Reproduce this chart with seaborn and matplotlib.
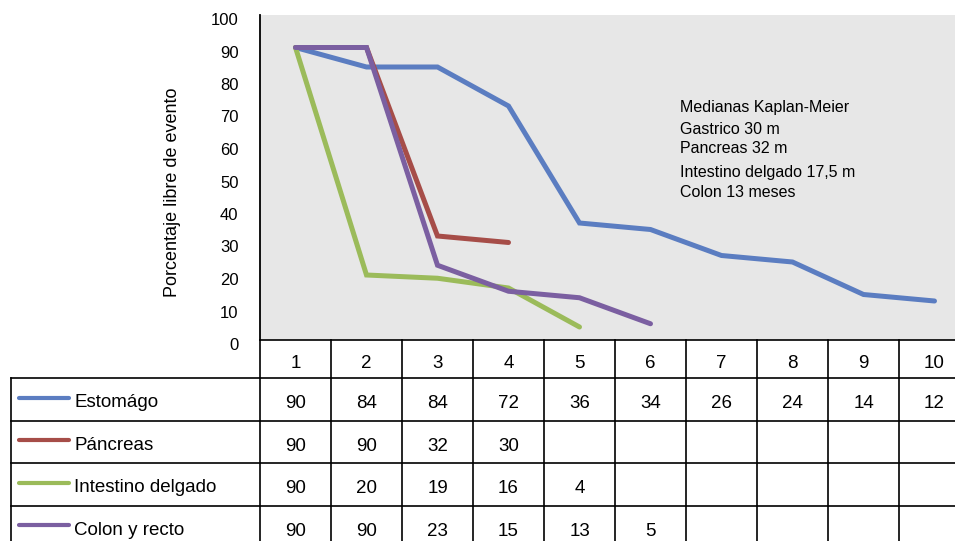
import matplotlib
matplotlib.use("Agg")
import matplotlib.pyplot as plt
from matplotlib.transforms import ScaledTranslation
import pandas as pd
import seaborn as sns

# Months on the x axis (also the table header)
meses = [1, 2, 3, 4, 5, 6, 7, 8, 9, 10]

# Event-free percentage per tumour site
series = ["Estomágo", "Páncreas", "Intestino delgado", "Colon y recto"]
estomago = [90, 84, 84, 72, 36, 34, 26, 24, 14, 12]
pancreas = [90, 90, 32, 30]
intestino = [90, 20, 19, 16, 4]
colon = [90, 90, 23, 15, 13, 5]
colores = ["#5B7DC1", "#A64D48", "#9BBB5A", "#7B5FA1"]

yticks = list(range(0, 101, 10))
notas = ["Medianas Kaplan-Meier", "Gastrico 30 m", "Pancreas 32 m",
         "Intestino delgado 17,5 m", "Colon 13 meses"]
notas_y = [71.6, 64.9, 58.8, 51.5, 45.3]

sns.set_theme(style="white")
plt.rcParams["font.family"] = ["Liberation Sans", "DejaVu Sans"]

valores = [estomago, pancreas, intestino, colon]
df = pd.DataFrame(
    [(s, m, v) for s, vals in zip(series, valores) for m, v in zip(meses, vals)],
    columns=["serie", "mes", "valor"],
)

W, H = 955, 541
fig = plt.figure(figsize=(W / 100, H / 100), dpi=100)
fig.patch.set_facecolor("white")


def px_box(x0, y0, x1, y1):
    return [x0 / W, 1 - y1 / H, (x1 - x0) / W, (y1 - y0) / H]


# ---- chart ----
ax = fig.add_axes(px_box(260, 15, 970, 340))
ax.set_facecolor("#e7e7e7")
sns.lineplot(data=df, x="mes", y="valor", hue="serie", hue_order=series,
             palette=colores, lw=3.6, legend=False, ax=ax, sort=False,
             solid_joinstyle="miter", solid_capstyle="round")
ax.set_xlim(0.5, 10.5)
ax.set_ylim(0, 100)
ax.set_xticks([])
ax.set_yticks(yticks)
ax.set_xlabel("")
ax.set_ylabel("Porcentaje libre de evento", fontsize=13, color="black")
ax.yaxis.label.set_va("center")
ax.yaxis.label.set_rotation_mode("anchor")
ax.yaxis.set_label_coords((172.5 - 260) / 710, (340 - 192.5) / 325)
for side in ["top", "right", "bottom"]:
    ax.spines[side].set_visible(False)
ax.spines["left"].set_color("black")
ax.spines["left"].set_linewidth(1.3)
ax.tick_params(axis="y", length=0, pad=15.5, labelsize=12, labelcolor="black")
shift = ScaledTranslation(0, -4 / 100, fig.dpi_scale_trans)
for lab in ax.get_yticklabels():
    lab.set_transform(lab.get_transform() + shift)

for txt, yy in zip(notas, notas_y):
    ax.text(6.42, yy, txt, ha="left", va="center", fontsize=11.5, color="black")

# ---- data table ----
x0 = 0.5 - 249 / 71
tab = fig.add_axes(px_box(11, 340, 970, 541))
tab.set_xlim(x0, 10.5)
tab.set_ylim(201, 0)
tab.axis("off")

header_h = 38
row_h = 42.5
row_tops = [header_h + i * row_h for i in range(len(series))]
lk = dict(color="black", lw=1.2, clip_on=False, solid_capstyle="projecting")

tab.plot([0.5, 10.5], [0, 0], **lk)
for yt in row_tops:
    tab.plot([x0, 10.5], [yt, yt], **lk)
tab.plot([x0, x0], [header_h, 201], **lk)
for xb in [m - 0.5 for m in meses] + [10.5]:
    tab.plot([xb, xb], [0, 201], **lk)

for m in meses:
    tab.text(m, header_h / 2 + 4.5, str(m), ha="center", va="center",
             fontsize=13.5, color="black")

for s, vals, col, yt in zip(series, valores, colores, row_tops):
    yc = yt + row_h / 2
    tab.plot([x0 + 8 / 71, x0 + 57.7 / 71], [yc - 1.5, yc - 1.5], color=col,
             lw=3.0, solid_capstyle="round", clip_on=False)
    tab.text(x0 + 63 / 71, yc + 3.5, s, ha="left", va="center",
             fontsize=13.5, color="black")
    for m, v in zip(meses, vals):
        tab.text(m, yc + 4.5, str(v), ha="center", va="center",
                 fontsize=13.5, color="black")

fig.savefig("out.png", dpi=100)
